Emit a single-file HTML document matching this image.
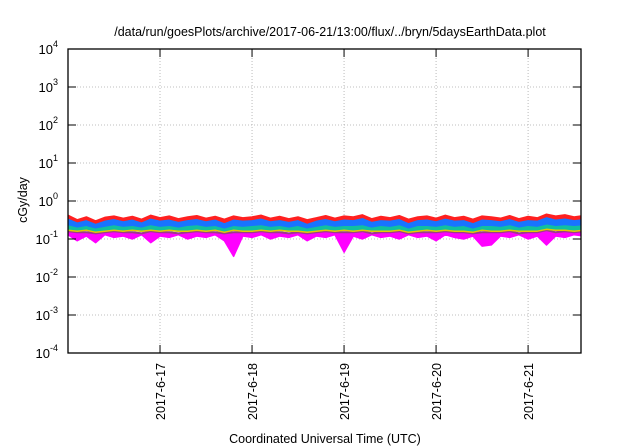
<!DOCTYPE html>
<html><head><meta charset="utf-8"><style>
html,body{margin:0;padding:0;background:#fff;}
svg{display:block;font-family:"Liberation Sans",sans-serif;}
</style></head><body>
<svg id="chart" width="640" height="448">
<defs><clipPath id="pc"><rect x="68" y="49" width="513" height="304"/></clipPath></defs>
<text x="330" y="36" font-size="12.5" text-anchor="middle">/data/run/goesPlots/archive/2017-06-21/13:00/flux/../bryn/5daysEarthData.plot</text>
<g id="grid"></g>
<g id="series" clip-path="url(#pc)"></g>
<rect x="68" y="49" width="513" height="304" fill="none" stroke="#000" stroke-width="1.3"/>
<g id="axes"></g>
<text transform="translate(27,200) rotate(-90)" font-size="12.5" text-anchor="middle">cGy/day</text>
<text x="325" y="443" font-size="12.5" text-anchor="middle">Coordinated Universal Time (UTC)</text>
</svg>
<script>
const yExps=[4,3,2,1,0,-1,-2,-3,-4];
const xTickDays=[1,2,3,4,5];
const xTickLabels=["2017-6-17","2017-6-18","2017-6-19","2017-6-20","2017-6-21"];
const tStart=0.0, tStep=0.1;
const red=[0.42,0.32,0.38,0.30,0.37,0.40,0.35,0.39,0.33,0.42,0.36,0.40,0.34,0.38,0.41,0.35,0.39,0.33,0.40,0.36,0.38,0.42,0.35,0.39,0.34,0.38,0.32,0.36,0.41,0.35,0.40,0.38,0.43,0.34,0.39,0.36,0.41,0.33,0.38,0.40,0.35,0.42,0.36,0.39,0.33,0.40,0.38,0.35,0.41,0.34,0.39,0.36,0.45,0.40,0.43,0.38,0.41];
const blue=[0.33,0.26,0.30,0.24,0.29,0.32,0.28,0.31,0.26,0.33,0.29,0.31,0.27,0.30,0.32,0.28,0.31,0.25,0.31,0.29,0.30,0.33,0.28,0.30,0.27,0.30,0.24,0.29,0.32,0.28,0.31,0.30,0.34,0.27,0.30,0.29,0.32,0.25,0.30,0.31,0.28,0.33,0.29,0.30,0.25,0.31,0.30,0.28,0.32,0.27,0.30,0.29,0.36,0.31,0.33,0.30,0.32];
const cyan=[0.22,0.19,0.21,0.18,0.20,0.22,0.20,0.21,0.19,0.22,0.20,0.21,0.19,0.21,0.22,0.20,0.21,0.18,0.21,0.20,0.21,0.22,0.20,0.21,0.19,0.21,0.18,0.20,0.22,0.20,0.21,0.21,0.22,0.19,0.21,0.20,0.22,0.18,0.21,0.21,0.20,0.22,0.20,0.21,0.18,0.21,0.21,0.20,0.22,0.19,0.21,0.20,0.23,0.21,0.22,0.21,0.22];
const yellow=[0.17,0.16,0.17,0.15,0.16,0.17,0.16,0.17,0.16,0.17,0.16,0.17,0.16,0.16,0.17,0.16,0.17,0.15,0.17,0.16,0.16,0.17,0.16,0.17,0.16,0.16,0.15,0.16,0.17,0.16,0.17,0.16,0.17,0.16,0.16,0.16,0.17,0.15,0.16,0.17,0.16,0.17,0.16,0.16,0.15,0.17,0.16,0.16,0.17,0.16,0.16,0.16,0.18,0.17,0.17,0.16,0.17];
const purple=[0.16,0.15,0.15,0.14,0.15,0.16,0.15,0.15,0.14,0.16,0.15,0.15,0.14,0.15,0.16,0.15,0.15,0.14,0.15,0.15,0.15,0.16,0.15,0.15,0.14,0.15,0.14,0.15,0.16,0.15,0.15,0.15,0.16,0.14,0.15,0.15,0.16,0.14,0.15,0.15,0.15,0.16,0.15,0.15,0.14,0.15,0.15,0.15,0.16,0.14,0.15,0.15,0.17,0.15,0.16,0.15,0.16];
const magenta=[0.13,0.09,0.12,0.08,0.13,0.11,0.12,0.10,0.13,0.08,0.12,0.11,0.13,0.10,0.12,0.11,0.13,0.09,0.035,0.12,0.11,0.13,0.10,0.12,0.11,0.13,0.09,0.12,0.11,0.13,0.045,0.12,0.10,0.13,0.11,0.12,0.10,0.13,0.11,0.12,0.09,0.13,0.11,0.10,0.12,0.065,0.07,0.12,0.11,0.13,0.10,0.12,0.07,0.12,0.11,0.13,0.12];
const NS="http://www.w3.org/2000/svg";
const X0=68,X1=581,Y0=49,Y1=353,dMin=0.0,dMax=5.575;
function xs(d){return X0+(d-dMin)/(dMax-dMin)*(X1-X0);}
function ys(v){return Y0+(4-Math.log10(v))/8*(Y1-Y0);}
const grid=document.getElementById('grid'),axes=document.getElementById('axes'),sg=document.getElementById('series');
function mk(tag,attrs,parent){const e=document.createElementNS(NS,tag);for(const k in attrs)e.setAttribute(k,attrs[k]);parent.appendChild(e);return e;}
function pts(arr){return arr.map((v,j)=>xs(tStart+j*tStep).toFixed(1)+','+ys(v).toFixed(1));}
function band(top,bot,color,name){
 const p=pts(top).concat(pts(bot).reverse()).join(' ');
 const e=mk('polygon',{points:p,fill:color,stroke:color,'stroke-width':1.5,'stroke-linejoin':'round'},sg);
 
 
}
function line(arr,color,w,name){
 const e=mk('polyline',{points:pts(arr).join(' '),fill:'none',stroke:color,'stroke-width':w,'stroke-linejoin':'round'},sg);
 
 
}
yExps.forEach(p=>{const y=ys(Math.pow(10,p));
 if(p<4&&p>-4){const g=mk('line',{x1:X0,x2:X1,y1:y,y2:y,stroke:'#aaa','stroke-width':0.8,'stroke-dasharray':'1,2'},grid);
 
 }
 const t1=mk('line',{x1:X0,x2:X0+8,y1:y,y2:y,stroke:'#000'},axes);
 
 
 mk('line',{x1:X1-8,x2:X1,y1:y,y2:y,stroke:'#000'},axes);
 const t=mk('text',{x:58,y:y+5,'font-size':13,'text-anchor':'end'},axes);
 
 
 t.textContent='10';
 const s=mk('tspan',{dy:-7,'font-size':9},t);s.textContent=String(p);
});
xTickDays.forEach((d,i)=>{const x=xs(d);
 const g=mk('line',{x1:x,x2:x,y1:Y0,y2:Y1,stroke:'#aaa','stroke-width':0.8,'stroke-dasharray':'1,2'},grid);
 
 
 const tk=mk('line',{x1:x,x2:x,y1:Y1-8,y2:Y1,stroke:'#000'},axes);
 
 
 mk('line',{x1:x,x2:x,y1:Y0,y2:Y0+8,stroke:'#000'},axes);
 const t=mk('text',{transform:`translate(${x+5},363) rotate(-90)`,'font-size':12.5,'text-anchor':'end'},axes);
 
 
 t.textContent=xTickLabels[i];
});
band(red,blue,"#ff2020","red-series");
band(blue,cyan,"#1874ff","blue-series");
band(cyan,yellow,"#10c0a0","cyan-series");
band(purple,magenta,"#ff00ff","magenta-series");
line(purple,"#9b3a8a",2,"purple-series");
line(yellow,"#e6c800",1.5,"yellow-series");
</script>
</body></html>
